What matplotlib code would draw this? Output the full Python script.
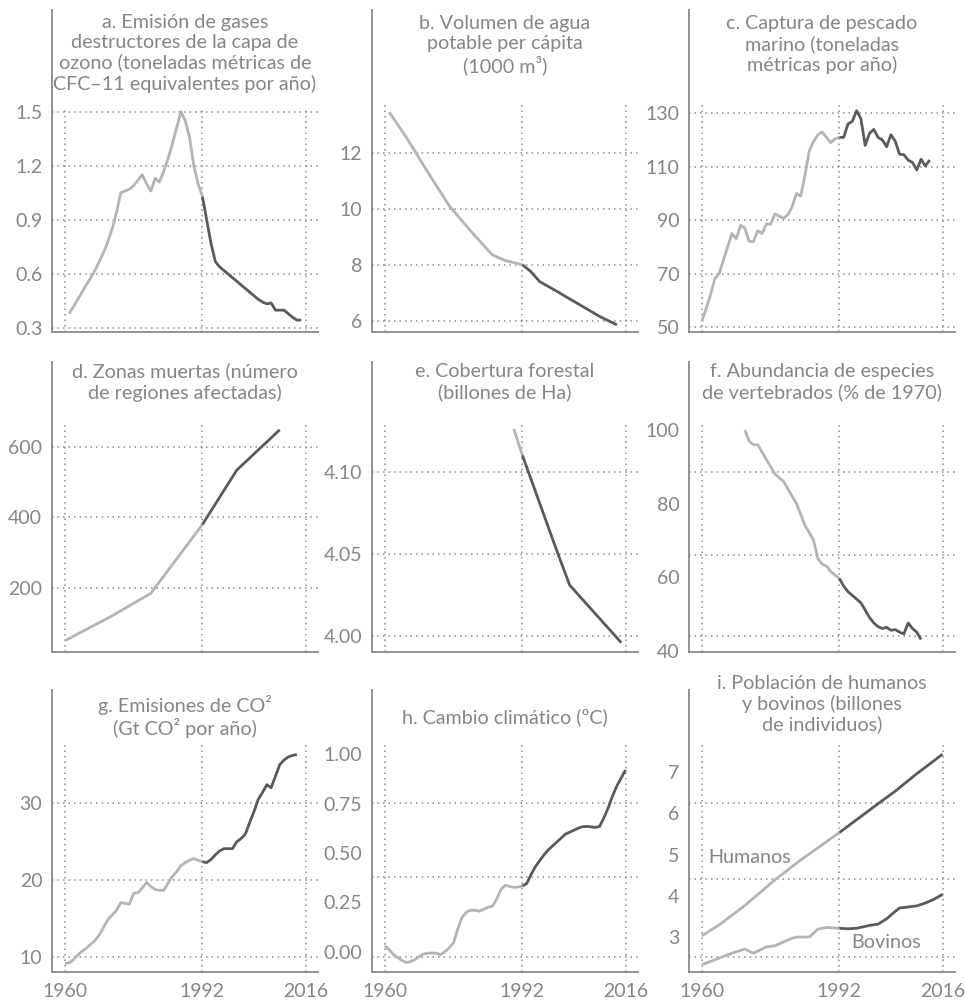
import matplotlib
matplotlib.use("Agg")
import matplotlib.pyplot as plt
import numpy as np

plt.rcParams['font.family'] = ['Lato', 'DejaVu Sans']

# ---------------- data ----------------
a_years = list(range(1961, 2016))
a_vals = [0.38, 0.42, 0.46, 0.50, 0.54, 0.58, 0.62, 0.67, 0.72, 0.78, 0.85, 0.94, 1.05, 1.06,
          1.07, 1.09, 1.12, 1.15, 1.10, 1.06, 1.13, 1.11, 1.17, 1.24, 1.32, 1.41, 1.50, 1.45,
          1.36, 1.20, 1.10, 1.03, 0.90, 0.77, 0.67, 0.64, 0.62, 0.60, 0.58, 0.56, 0.54, 0.52,
          0.50, 0.48, 0.46, 0.445, 0.435, 0.44, 0.40, 0.40, 0.40, 0.38, 0.36, 0.345, 0.345]

b_years = [1961, 1965, 1970, 1975, 1980, 1985, 1988, 1992, 1994, 1996, 2000, 2005, 2010, 2014]
b_vals = [13.45, 12.55, 11.3, 10.1, 9.2, 8.35, 8.15, 8.0, 7.75, 7.4, 7.05, 6.6, 6.15, 5.85]

c_years = list(range(1960, 2014))
c_vals = [52, 57, 62, 68, 70, 75, 80, 85, 83, 88, 87, 82, 82, 86, 85, 88.5, 88.5, 92.3, 91.5,
          90.6, 92, 95, 100, 99, 107, 116, 119.5, 122, 123, 121, 119, 120.5, 121, 121, 126,
          127, 131, 128, 118, 122.5, 124, 121, 120, 117.5, 122, 119.5, 114.7, 114.5, 112.5,
          111.6, 108.8, 112.8, 110.3, 112.5]

d_years = [1960, 1971, 1980, 1992, 2000, 2010]
d_vals = [49, 120, 184, 380, 535, 650]

e_years = [1990, 1992, 2000, 2003, 2015]
e_vals = [4.126, 4.110, 4.052, 4.031, 3.996]

f_years = list(range(1970, 2012))
f_vals = [100, 97, 96, 96, 94, 92, 90, 88, 87, 86, 84, 82, 80, 77, 74, 72, 70, 65, 63.5, 63,
          61.5, 60.5, 59.6, 57.5, 56, 55, 54, 53, 51, 49, 47.5, 46.5, 46, 46.3, 45.5, 45.7,
          45, 44.5, 47.5, 46, 45, 43]

g_years = list(range(1960, 2015))
g_vals = [9.2, 9.3, 9.7, 10.3, 10.8, 11.2, 11.7, 12.2, 12.9, 13.9, 14.9, 15.5, 16.1, 17.1,
          17.0, 16.9, 18.3, 18.4, 19.0, 19.7, 19.2, 18.8, 18.7, 18.7, 19.6, 20.5, 21.1, 21.9,
          22.3, 22.6, 22.8, 22.6, 22.4, 22.3, 22.7, 23.3, 23.8, 24.1, 24.1, 24.1, 25.0, 25.4,
          26.0, 27.5, 28.9, 30.5, 31.4, 32.4, 32.0, 33.5, 35.0, 35.6, 36.0, 36.2, 36.3]

h_years = list(range(1960, 2017))
h_vals = [0.03, 0.01, -0.015, -0.03, -0.045, -0.055, -0.05, -0.04, -0.025, -0.012, -0.008,
          -0.007, -0.008, -0.015, 0.0, 0.02, 0.045, 0.12, 0.175, 0.20, 0.21, 0.21, 0.205,
          0.215, 0.225, 0.23, 0.265, 0.315, 0.336, 0.33, 0.325, 0.327, 0.332, 0.345, 0.39,
          0.43, 0.46, 0.49, 0.515, 0.535, 0.555, 0.575, 0.595, 0.605, 0.615, 0.625, 0.633,
          0.634, 0.632, 0.629, 0.635, 0.68, 0.73, 0.79, 0.84, 0.88, 0.92]

i_hum_years = [1960, 1964, 1970, 1977, 1983, 1992, 2000, 2005, 2010, 2016]
i_hum_vals = [3.04, 3.30, 3.77, 4.39, 4.87, 5.53, 6.15, 6.53, 6.95, 7.42]
i_bov_years = [1960, 1964, 1967, 1970, 1972, 1975, 1977, 1981, 1982, 1985, 1987, 1989, 1992,
               1994, 1996, 1999, 2001, 2003, 2005, 2006, 2010, 2012, 2014, 2016]
i_bov_vals = [2.34, 2.50, 2.62, 2.72, 2.62, 2.77, 2.80, 2.98, 3.01, 3.01, 3.20, 3.24, 3.22,
              3.21, 3.22, 3.29, 3.32, 3.45, 3.63, 3.71, 3.76, 3.83, 3.92, 4.04]

titles = ["a. Emisión de gases\ndestructores de la capa de\nozono (toneladas métricas de\nCFC–11 equivalentes por año)",
          "b. Volumen de agua\npotable per cápita\n(1000 m³)",
          "c. Captura de pescado\nmarino (toneladas\nmétricas por año)",
          "d. Zonas muertas (número\nde regiones afectadas)",
          "e. Cobertura forestal\n(billones de Ha)",
          "f. Abundancia de especies\nde vertebrados (% de 1970)",
          "g. Emisiones de CO²\n(Gt CO² por año)",
          "h. Cambio climático (ºC)",
          "i. Población de humanos\ny bovinos (billones\nde individuos)"]

ytick_vals = [[1.5, 1.2, 0.9, 0.6, 0.3], [12, 10, 8, 6], [130, 110, 90, 70, 50],
              [600, 400, 200], [4.10, 4.05, 4.00], [100, 80, 60, 40],
              [30, 20, 10], [1.00, 0.75, 0.50, 0.25, 0.00], [7, 6, 5, 4, 3]]
ytick_labels = [["1.5", "1.2", "0.9", "0.6", "0.3"], ["12", "10", "8", "6"],
                ["130", "110", "90", "70", "50"], ["600", "400", "200"],
                ["4.10", "4.05", "4.00"], ["100", "80", "60", "40"], ["30", "20", "10"],
                ["1.00", "0.75", "0.50", "0.25", "0.00"], ["7", "6", "5", "4", "3"]]
hgrid_vals = [[1.5, 1.2, 0.9, 0.6, 0.3], [12, 10, 8, 6], [130, 110, 90, 70, 50],
              [600, 400, 200], [4.10, 4.05, 4.00], [88.7, 66.1, 44.0],
              [30, 20, 10], [0.752, 0.376, -0.029], [6.24, 4.42, 2.525]]
ylims = [(0.279, 2.063), (5.596, 17.10), (48.1, 168.7), (16.8, 843), (3.9903, 4.1668),
         (39.6, 118.5), (8.10, 44.68), (-0.103, 1.325), (2.166, 8.97)]
xticks = [1960, 1992, 2016]
split_year = 1992

# ---------------- style ----------------
LIGHT = "#b4b4b4"
DARK = "#5a5a5a"
TXT = "#858585"
SPINE = "#8a8a8a"
GRID = "#8a8a8a"

W, H = 965, 1001
fig = plt.figure(figsize=(W / 100, H / 100), dpi=100)
fig.patch.set_facecolor("white")

col_left = [52, 372, 689]
col_w = 266
rows = [(10, 332), (362, 652), (690, 972)]
vgrid_top = [[0.689, 0.715, 0.715], [0.797, 0.797, 0.797], [0.816, 0.816, 0.816]]
title_y = [[0.866, 0.892, 0.893], [0.931, 0.931, 0.931], [0.906, 0.904, 0.950]]

series = [[(a_years, a_vals)], [(b_years, b_vals)], [(c_years, c_vals)],
          [(d_years, d_vals)], [(e_years, e_vals)], [(f_years, f_vals)],
          [(g_years, g_vals)], [(h_years, h_vals)],
          [(i_hum_years, i_hum_vals), (i_bov_years, i_bov_vals)]]

TFS = 14.2
LFS = 14
dot = (0, (1, 2.6))
for k in range(9):
    r, c = divmod(k, 3)
    top, bot = rows[r]
    ax = fig.add_axes([col_left[c] / W, (H - bot) / H, col_w / W, (bot - top) / H])
    ax.set_xlim(1957, 2018.9)
    ax.set_ylim(*ylims[k])
    for s in ["top", "right"]:
        ax.spines[s].set_visible(False)
    for s in ["left", "bottom"]:
        ax.spines[s].set_color(SPINE)
        ax.spines[s].set_linewidth(1.3)
    for yv in hgrid_vals[k]:
        ax.axhline(yv, color=GRID, lw=1.1, ls=dot, zorder=1)
    for xv in xticks:
        ax.axvline(xv, ymin=0, ymax=vgrid_top[r][c], color=GRID, lw=1.1, ls=dot, zorder=1)
    for yrs, vals in series[k]:
        yrs = np.array(yrs, dtype=float)
        vals = np.array(vals, dtype=float)
        m1 = yrs <= split_year
        m2 = yrs >= split_year
        ax.plot(yrs[m1], vals[m1], color=LIGHT, lw=2.0, zorder=3, solid_capstyle="butt")
        ax.plot(yrs[m2], vals[m2], color=DARK, lw=2.0, zorder=3, solid_capstyle="butt")
    ax.set_yticks(ytick_vals[k])
    ax.set_yticklabels(ytick_labels[k])
    ax.tick_params(axis="y", length=0, pad=7, labelsize=LFS, labelcolor=TXT)
    ax.set_xticks(xticks)
    if r == 2:
        ax.tick_params(axis="x", length=0, pad=8, labelsize=LFS, labelcolor=TXT)
    else:
        ax.tick_params(axis="x", length=0, labelbottom=False)
    ax.text(0.5, title_y[r][c], titles[k], transform=ax.transAxes, ha="center", va="center",
            fontsize=TFS, color=TXT, linespacing=1.2)
    if k == 8:
        ax.text(1961.5, 4.94, "Humanos", ha="left", va="center", fontsize=TFS, color=TXT)
        ax.text(1994.8, 2.87, "Bovinos", ha="left", va="center", fontsize=TFS, color=TXT)
    ax.set_facecolor("none")

fig.savefig("out.png", dpi=100, facecolor="white")
